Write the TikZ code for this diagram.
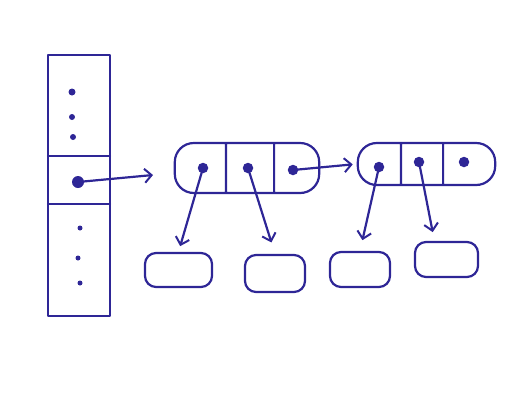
\documentclass[tikz,border=0pt]{standalone}
\usepackage{xcolor}
\usepackage{tikz}
\usetikzlibrary{positioning, arrows.meta, shapes.multipart}

\definecolor{ink}{RGB}{46,38,150}

\tikzset{
    pen/.style={draw=ink, line width=2.2pt, line cap=round, line join=round},
    arraybox/.style={pen, rectangle split, rectangle split parts=3, inner sep=0pt},
    listbox/.style={pen, rectangle split, rectangle split horizontal, rectangle split parts=3,
        inner sep=0pt, rounded corners=19pt},
    leafbox/.style={pen, rounded corners=11pt, inner sep=0pt},
    ptr/.style={circle, fill=ink, inner sep=0pt, minimum size=10.5pt},
    dotsm/.style={circle, fill=ink, inner sep=0pt, minimum size=5pt},
    link/.style={pen, -{Straight Barb[length=7pt, width=14pt, line width=2pt]}}
}

\begin{document}
\begin{tikzpicture}[x=1pt, y=-1pt]
    \useasboundingbox (0,0) rectangle (519,400);

    % hash table
    \node[arraybox] (tab) at (79,185.5) {\rule{62pt}{0pt}\rule{0pt}{99pt}
        \nodepart{two}\rule{0pt}{46pt}
        \nodepart{three}\rule{0pt}{110pt}};
    \node[dotsm, minimum size=7pt] (t1) at (72,92) {};
    \node[dotsm, minimum size=6pt] (t2) at (72,117) {};
    \node[dotsm, minimum size=6pt] (t3) at (73,137) {};
    \node[ptr, minimum size=12pt] (tp) at (78,182) {};
    \node[dotsm] (t4) at (80,228) {};
    \node[dotsm] (t5) at (78,258) {};
    \node[dotsm] (t6) at (80,283) {};
    \coordinate (tend) at (153,175);

    % buckets
    \node[listbox] (l1) at (247,168) {\rule{50pt}{0pt}\rule[-25pt]{0pt}{50pt}
        \nodepart{two}\rule{46pt}{0pt}
        \nodepart{three}\rule{44pt}{0pt}};
    \node[listbox] (l2) at (426.5,164) {\rule{42pt}{0pt}\rule[-21pt]{0pt}{42pt}
        \nodepart{two}\rule{40pt}{0pt}
        \nodepart{three}\rule{51pt}{0pt}};

    \node[ptr] (p11) at (203,168) {};
    \node[ptr] (p12) at (248,168) {};
    \node[ptr] (p13) at (293,170) {};
    \node[ptr] (p21) at (379,167) {};
    \node[ptr] (p22) at (419,162) {};
    \node[ptr] (p23) at (464,162) {};

    % entries
    \node[leafbox, minimum width=67pt, minimum height=34pt] (b1) at (178.5,270) {};
    \node[leafbox, minimum width=60pt, minimum height=37pt] (b2) at (275,273.5) {};
    \node[leafbox, minimum width=60pt, minimum height=35pt] (b3) at (360,269.5) {};
    \node[leafbox, minimum width=63pt, minimum height=35pt] (b4) at (446.5,259.5) {};

    \draw[link] (tp.center) -- (tend);
    \draw[link, shorten >=4pt] (p13.center) -- (l2.west);
    \draw[link, shorten >=6pt] (p11.center) -- (b1.north);
    \draw[link, shorten >=12pt] (p12.center) -- (b2.north);
    \draw[link, shorten >=11pt] (p21.center) -- (b3.north);
    \draw[link, shorten >=9pt] (p22.center) -- (b4.123);
\end{tikzpicture}
\end{document}
